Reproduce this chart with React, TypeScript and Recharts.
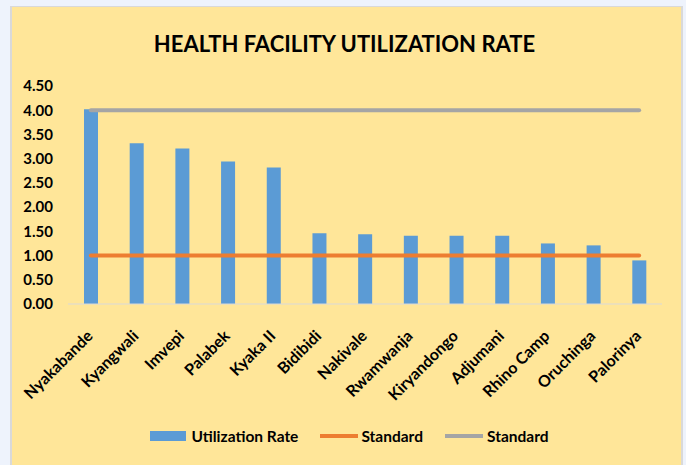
import React from "react";
import { ComposedChart, Bar, Line, XAxis, YAxis, Legend } from "recharts";

const categories = [
  "Nyakabande", "Kyangwali", "Imvepi", "Palabek", "Kyaka II", "Bidibidi", "Nakivale",
  "Rwamwanja", "Kiryandongo", "Adjumani", "Rhino Camp", "Oruchinga", "Palorinya",
];
const utilizationRate = [4.02, 3.32, 3.21, 2.94, 2.82, 1.46, 1.44, 1.41, 1.41, 1.41, 1.25, 1.21, 0.9];
const standardLow = [1, 1, 1, 1, 1, 1, 1, 1, 1, 1, 1, 1, 1];
const standardHigh = [4, 4, 4, 4, 4, 4, 4, 4, 4, 4, 4, 4, 4];
const yTicks = [0, 0.5, 1, 1.5, 2, 2.5, 3, 3.5, 4, 4.5];

const data = categories.map((name, i) => ({
  name,
  rate: utilizationRate[i],
  low: standardLow[i],
  high: standardHigh[i],
}));

const FONT = "Lato, 'Liberation Sans', sans-serif";

const XTick = (props: any) => {
  const { x, y, payload } = props;
  const ax = x + 3;
  const ay = y + 25;
  return (
    <text
      x={ax}
      y={ay}
      transform={`rotate(-45, ${ax}, ${ay})`}
      textAnchor="end"
      fontFamily={FONT}
      fontWeight={700}
      fontSize={16}
      fill="#000"
    >
      {payload.value}
    </text>
  );
};

const LegendContent = () => (
  <div
    style={{
      display: "flex",
      alignItems: "center",
      justifyContent: "center",
      paddingLeft: 13,
      fontFamily: FONT,
      fontWeight: 700,
      fontSize: 15.5,
      lineHeight: "18px",
      color: "#000",
    }}
  >
    <span style={{ display: "inline-block", width: 36, height: 10, background: "#5B9BD5", marginRight: 5 }} />
    <span style={{ marginRight: 22 }}>Utilization Rate</span>
    <span style={{ display: "inline-block", width: 38, height: 4, background: "#ED7D31", marginRight: 3 }} />
    <span style={{ marginRight: 22 }}>Standard</span>
    <span style={{ display: "inline-block", width: 38, height: 4, background: "#A5A5A5", marginRight: 4 }} />
    <span>Standard</span>
  </div>
);

export default function App() {
  return (
    <div style={{ position: "fixed", left: 0, top: 0, width: 686, height: 465, background: "#EEF3FC", overflow: "hidden" }}>
      <div
        style={{
          position: "absolute",
          left: 10,
          top: 6,
          width: 673,
          height: 470,
          boxSizing: "border-box",
          borderLeft: "2px solid #D9D9D9",
          borderRight: "2px solid #D9D9D9",
          borderTop: "1px solid #D9D9D9",
          background: "#FFE699",
        }}
      />
      <div
        style={{
          position: "absolute",
          left: 0,
          top: 31,
          width: 686,
          textAlign: "center",
          paddingLeft: 3,
          boxSizing: "border-box",
          fontFamily: FONT,
          fontWeight: 700,
          fontSize: 22,
          color: "#000",
          lineHeight: "26px",
        }}
      >
        HEALTH FACILITY UTILIZATION RATE
      </div>
      <div style={{ position: "absolute", left: 0, top: 0 }}>
        <ComposedChart
          width={686}
          height={465}
          data={data}
          margin={{ top: 86, right: 24, bottom: 43, left: 0 }}
          barCategoryGap={0}
        >
          <XAxis
            dataKey="name"
            interval={0}
            tick={<XTick />}
            tickLine={false}
            axisLine={{ stroke: "#D9D9D9", strokeWidth: 1 }}
            height={100}
          />
          <YAxis
            domain={[0, 4.5]}
            ticks={yTicks}
            width={68}
            axisLine={false}
            tickLine={false}
            tickMargin={9}
            tickFormatter={(v: number) => v.toFixed(2)}
            tick={{ fontFamily: FONT, fontWeight: 700, fontSize: 15, fill: "#000" }}
          />
          <Bar dataKey="rate" fill="#5B9BD5" barSize={14} isAnimationActive={false} />
          <Line
            dataKey="low"
            stroke="#ED7D31"
            strokeWidth={4}
            strokeLinecap="round"
            dot={false}
            activeDot={false}
            isAnimationActive={false}
          />
          <Line
            dataKey="high"
            stroke="#A5A5A5"
            strokeWidth={4}
            strokeLinecap="round"
            dot={false}
            activeDot={false}
            isAnimationActive={false}
          />
          <Legend
            content={<LegendContent />}
            wrapperStyle={{ position: "absolute", left: 0, top: 427, width: 686 }}
          />
        </ComposedChart>
      </div>
    </div>
  );
}
